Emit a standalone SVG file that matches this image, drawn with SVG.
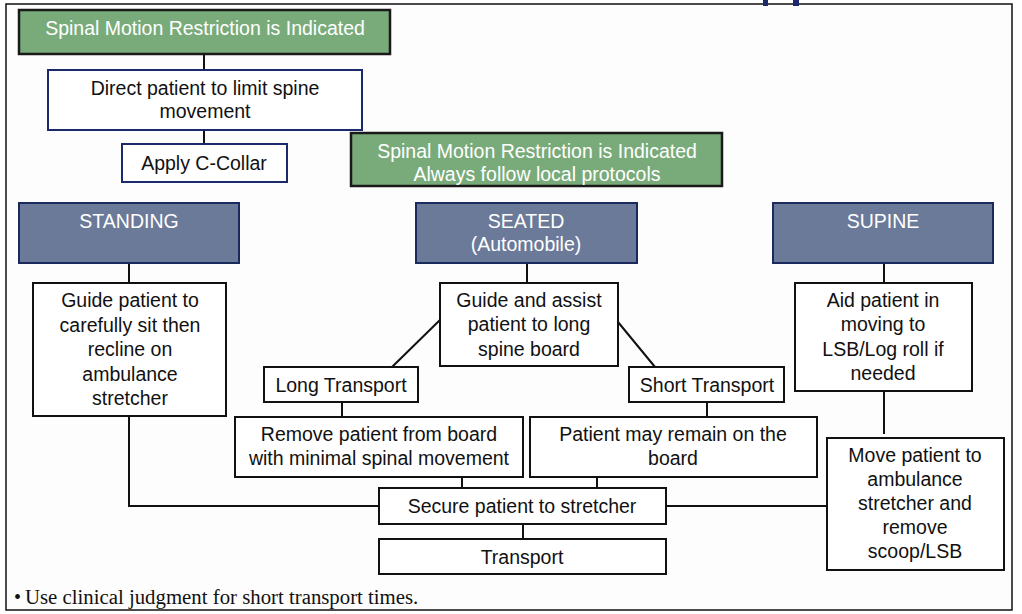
<svg xmlns="http://www.w3.org/2000/svg" width="1022" height="614" viewBox="0 0 1022 614">
<style>
.t{font-family:"Liberation Sans",Arial,sans-serif;font-size:19.5px;text-anchor:middle;fill:#111}
.w{fill:#fff}
.green{fill:#79ab7a;stroke:#1a1a1a;stroke-width:2.5}
.head{fill:#6b7a99;stroke:#1b2a5c;stroke-width:2}
.box{fill:#fff;stroke:#111;stroke-width:2}
.nbox{fill:#fff;stroke:#1c2a6b;stroke-width:2}
.c{stroke:#111;stroke-width:2;fill:none}
</style>
<rect x="0" y="0" width="1022" height="614" fill="#fff"/>
<rect x="6" y="4" width="1006" height="606" fill="#fdfdfd" stroke="#111" stroke-width="1.5"/>
<rect x="763" y="0" width="5" height="6" fill="#1c2a6b"/>
<rect x="793" y="0" width="6" height="6" fill="#1c2a6b"/>

<g id="connectors">
<path class="c" d="M204 54V70M204 130V144"/>
<path class="c" d="M129 263V283M527 263V283M884 263V283"/>
<path class="c" d="M442 318L392 367M618 322L655 367"/>
<path class="c" d="M342 402V417M707 402V417"/>
<path class="c" d="M462 477V488M597 477V488"/>
<path class="c" d="M129 416V506H379M666 506H828"/>
<path class="c" d="M884 391V434"/>
<path class="c" d="M523 524V539"/>
</g>

<g id="top-indicated">
<rect class="green" x="19" y="10" width="371" height="44"/>
<text class="t w" x="205" y="35">Spinal Motion Restriction is Indicated</text>
</g>
<g id="direct-patient">
<rect class="nbox" x="48" y="70" width="314" height="60"/>
<text class="t" x="205" y="95">Direct patient to limit spine</text>
<text class="t" x="205" y="118">movement</text>
</g>
<g id="c-collar">
<rect class="nbox" x="122" y="144" width="165" height="38"/>
<text class="t" x="204" y="170">Apply C-Collar</text>
</g>
<g id="indicated-protocols">
<rect class="green" x="351" y="133" width="371" height="53"/>
<text class="t w" x="537" y="158">Spinal Motion Restriction is Indicated</text>
<text class="t w" x="537" y="181">Always follow local protocols</text>
</g>

<g id="standing">
<rect class="head" x="19" y="203" width="220" height="60"/>
<text class="t w" x="129" y="228">STANDING</text>
</g>
<g id="seated">
<rect class="head" x="416" y="203" width="221" height="60"/>
<text class="t w" x="526" y="228">SEATED</text>
<text class="t w" x="526" y="251">(Automobile)</text>
</g>
<g id="supine">
<rect class="head" x="773" y="203" width="220" height="60"/>
<text class="t w" x="883" y="228">SUPINE</text>
</g>

<g id="standing-guide">
<rect class="box" x="33" y="283" width="193" height="133"/>
<text class="t" x="130" y="307">Guide patient to</text>
<text class="t" x="130" y="332">carefully sit then</text>
<text class="t" x="130" y="356">recline on</text>
<text class="t" x="130" y="381">ambulance</text>
<text class="t" x="130" y="405">stretcher</text>
</g>
<g id="seated-guide">
<rect class="box" x="440" y="283" width="178" height="83"/>
<text class="t" x="529" y="307">Guide and assist</text>
<text class="t" x="529" y="331">patient to long</text>
<text class="t" x="529" y="356">spine board</text>
</g>
<g id="supine-aid">
<rect class="box" x="795" y="283" width="177" height="108"/>
<text class="t" x="883" y="307">Aid patient in</text>
<text class="t" x="883" y="331">moving to</text>
<text class="t" x="883" y="356">LSB/Log roll if</text>
<text class="t" x="883" y="380">needed</text>
</g>

<g id="long-transport">
<rect class="box" x="264" y="367" width="154" height="35"/>
<text class="t" x="341" y="392">Long Transport</text>
</g>
<g id="short-transport">
<rect class="box" x="629" y="367" width="155" height="35"/>
<text class="t" x="707" y="392">Short Transport</text>
</g>

<g id="remove-board">
<rect class="box" x="235" y="417" width="288" height="60"/>
<text class="t" x="379" y="441">Remove patient from board</text>
<text class="t" x="379" y="465">with minimal spinal movement</text>
</g>
<g id="remain-board">
<rect class="box" x="530" y="417" width="287" height="60"/>
<text class="t" x="673" y="441">Patient may remain on the</text>
<text class="t" x="673" y="465">board</text>
</g>

<g id="move-patient">
<rect class="box" x="827" y="438" width="177" height="132"/>
<text class="t" x="915" y="462">Move patient to</text>
<text class="t" x="915" y="486">ambulance</text>
<text class="t" x="915" y="510">stretcher and</text>
<text class="t" x="915" y="534">remove</text>
<text class="t" x="915" y="558">scoop/LSB</text>
</g>

<g id="secure">
<rect class="box" x="379" y="488" width="287" height="36"/>
<text class="t" x="522" y="513">Secure patient to stretcher</text>
</g>
<g id="transport">
<rect class="box" x="379" y="539" width="287" height="35"/>
<text class="t" x="522" y="564">Transport</text>
</g>

<g id="footnote">
<text x="14" y="604" font-family="'Liberation Serif','Times New Roman',serif" font-size="20" fill="#111">•</text>
<text x="25" y="604" font-family="'Liberation Serif','Times New Roman',serif" font-size="20.8" fill="#111">Use clinical judgment for short transport times.</text>
</g>
</svg>
